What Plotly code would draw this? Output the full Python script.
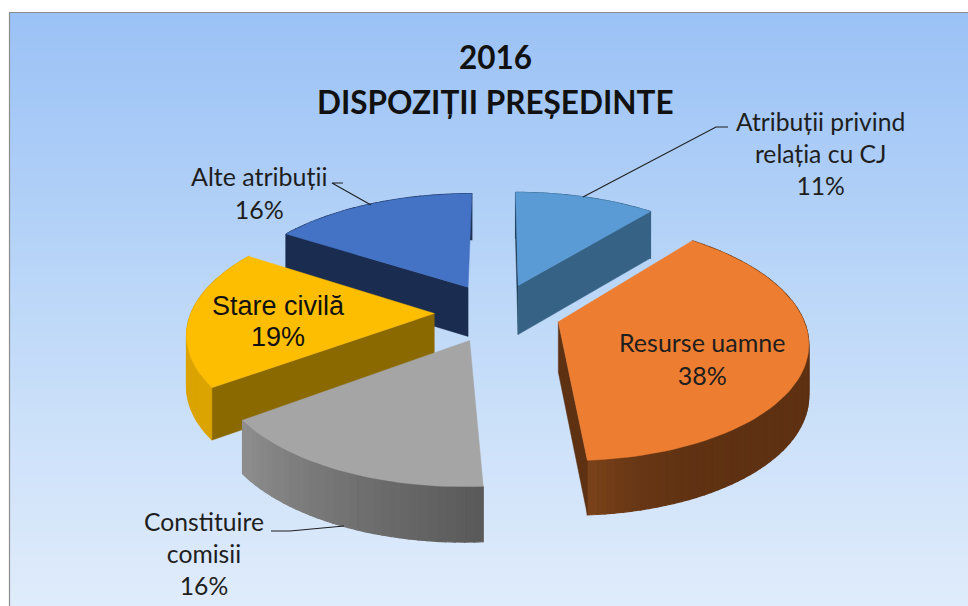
import math
import plotly.graph_objects as go

# ---- data ----
categories = ["Atribuții privind relația cu CJ", "Resurse uamne", "Constituire comisii", "Stare civilă", "Alte atribuții"]
values = [11, 38, 16, 19, 16]
title_lines = ["2016", "DISPOZIȚII PREȘEDINTE"]

# ---- styles (top face, wall at slice start, wall at slice end, outer side start / end) ----
top_colors = ["#5B9BD5", "#ED7D31", "#A5A5A5", "#FDBD00", "#4472C4"]
wall_start = ["#1F3A52", "#5E3112", "#8E8E8E", "#8A6A00", "#1A2C50"]
wall_end = ["#366285", "#5E3112", "#595959", "#8A6A00", "#1A2C50"]
side_start = ["#366285", "#5E3112", "#595959", "#DBA400", "#1A2C50"]
side_end = ["#366285", "#7C431A", "#8E8E8E", "#DBA400", "#1A2C50"]
side_power = [1, 14, 1, 1, 1]
draw_order = [4, 0, 3, 2, 1]

# ---- projection of the tilted, exploded pie ----
W, H = 968, 606
CX, CY = 497.5, 312.5
RX, RY = 243, 114.7
PERSP_X, PERSP_Y = 0.15, 0.151
EXPLODE = 0.26
DEPTH = 50


def project(u, v, drop=0.0):
    sx = 1 / (1 + PERSP_X * v)
    sy = 1 / (1 + PERSP_Y * v)
    return CX + RX * u * sx, CY - RY * v * sy + drop * sy ** 0.5


def hex_rgb(c):
    return tuple(int(c[i:i + 2], 16) for i in (1, 3, 5))


def mix(a, b, t):
    ra, rb = hex_rgb(a), hex_rgb(b)
    return "rgb(%d,%d,%d)" % tuple(round(x + (y - x) * t) for x, y in zip(ra, rb))


def poly(fig, pts, color, name, line=1.0):
    pts = list(pts) + [pts[0]]
    fig.add_trace(go.Scatter(
        x=[p[0] for p in pts], y=[p[1] for p in pts], mode="lines",
        fill="toself", fillcolor=color, line=dict(color=color, width=line),
        hoverinfo="text", text=name, showlegend=False))


fig = go.Figure()

total = sum(values)
starts, acc = [], 0.0
for val in values:
    starts.append(acc)
    acc += val / total * 2 * math.pi

for i in draw_order:
    a0 = starts[i]
    a1 = a0 + values[i] / total * 2 * math.pi
    mid = (a0 + a1) / 2
    du, dv = EXPLODE * math.sin(mid), EXPLODE * math.cos(mid)
    n = max(10, int(values[i] * 2))
    angles = [a0 + (a1 - a0) * k / n for k in range(n + 1)]
    rim = [(du + math.sin(a), dv + math.cos(a)) for a in angles]

    def wall(point, col):
        u, v = point
        poly(fig, [project(du, dv), project(u, v), project(u, v, DEPTH), project(du, dv, DEPTH)],
             col, categories[i], 0.5)

    for k in range(n):
        t = ((k + 0.5) / n) ** side_power[i]
        (u1, v1), (u2, v2) = rim[k], rim[k + 1]
        poly(fig, [project(u1, v1), project(u2, v2), project(u2, v2, DEPTH), project(u1, v1, DEPTH)],
             mix(side_start[i], side_end[i], t), categories[i], 1.2)
    # only the radial walls that face the viewer
    if math.sin(a0) <= 1e-9:
        wall(rim[0], wall_start[i])
    if math.sin(a1) > 1e-9:
        wall(rim[-1], wall_end[i])
    poly(fig, [project(du, dv)] + [project(u, v) for u, v in rim], top_colors[i], categories[i], 0.5)

# ---- background gradient and frame ----
stops = [(12, "#9BC2F6"), (190, "#AFCFF7"), (400, "#C9DFF9"), (606, "#E0ECFB")]
shapes = []
for y in range(12, H, 3):
    for (y0, c0), (y1, c1) in zip(stops, stops[1:]):
        if y0 <= y <= y1:
            col = mix(c0, c1, (y - y0) / (y1 - y0))
            break
    shapes.append(dict(type="rect", xref="x", yref="y", x0=9, x1=W, y0=y, y1=y + 3,
                       fillcolor=col, line=dict(width=0), layer="below"))
shapes.append(dict(type="line", xref="x", yref="y", x0=9, x1=W, y0=12.5, y1=12.5,
                   line=dict(color="#8C8C8C", width=1.2)))
shapes.append(dict(type="line", xref="x", yref="y", x0=9.5, x1=9.5, y0=12, y1=H,
                   line=dict(color="#8C8C8C", width=1.2)))

# ---- leader lines ----
leaders = [
    ([728, 716, 583], [127, 127, 197]),
    ([343, 332, 371], [183, 183, 205]),
    ([271, 290, 344], [531, 531, 526]),
]
for lx, ly in leaders:
    fig.add_trace(go.Scatter(x=lx, y=ly, mode="lines", line=dict(color="#1F1F1F", width=1.1),
                             hoverinfo="skip", showlegend=False))

LAT = "Lato, 'Open Sans', sans-serif"
ARI = "'Liberation Sans', Arial, sans-serif"
TXT = "#1E1E1E"


def pct(i):
    return f"{values[i]}%"


labels = [
    (820, 153, f"Atribuții privind<br>relația cu CJ<br>{pct(0)}", LAT, 24.7, TXT),
    (702, 358, f"{categories[1]}<br>{pct(1)}", LAT, 25, TXT),
    (204, 553, f"Constituire<br>comisii<br>{pct(2)}", LAT, 24.7, TXT),
    (278, 306, categories[3], ARI, 27, "#111111"),
    (278, 337, pct(3), ARI, 27, "#111111"),
    (259, 192, f"{categories[4]}<br>{pct(4)}", LAT, 25, TXT),
    (495, 57, f"<b>{title_lines[0]}</b>", LAT, 31.5, "#111111"),
    (495, 102, f"<b>{title_lines[1]}</b>", LAT, 31.5, "#111111"),
]
annotations = [dict(x=x, y=y, xref="x", yref="y", text=t, showarrow=False, xanchor="center", yanchor="middle",
                    align="center", font=dict(family=f, size=s, color=c))
               for x, y, t, f, s, c in labels]

fig.update_layout(
    width=W, height=H, margin=dict(l=0, r=0, t=0, b=0),
    paper_bgcolor="white", plot_bgcolor="white", showlegend=False,
    xaxis=dict(range=[0, W], visible=False, fixedrange=True),
    yaxis=dict(range=[H, 0], visible=False, fixedrange=True),
    shapes=shapes, annotations=annotations,
)
fig.write_html("out.html", config={"displayModeBar": False},
               post_script="document.body.style.margin='0';document.body.style.overflow='hidden';")
